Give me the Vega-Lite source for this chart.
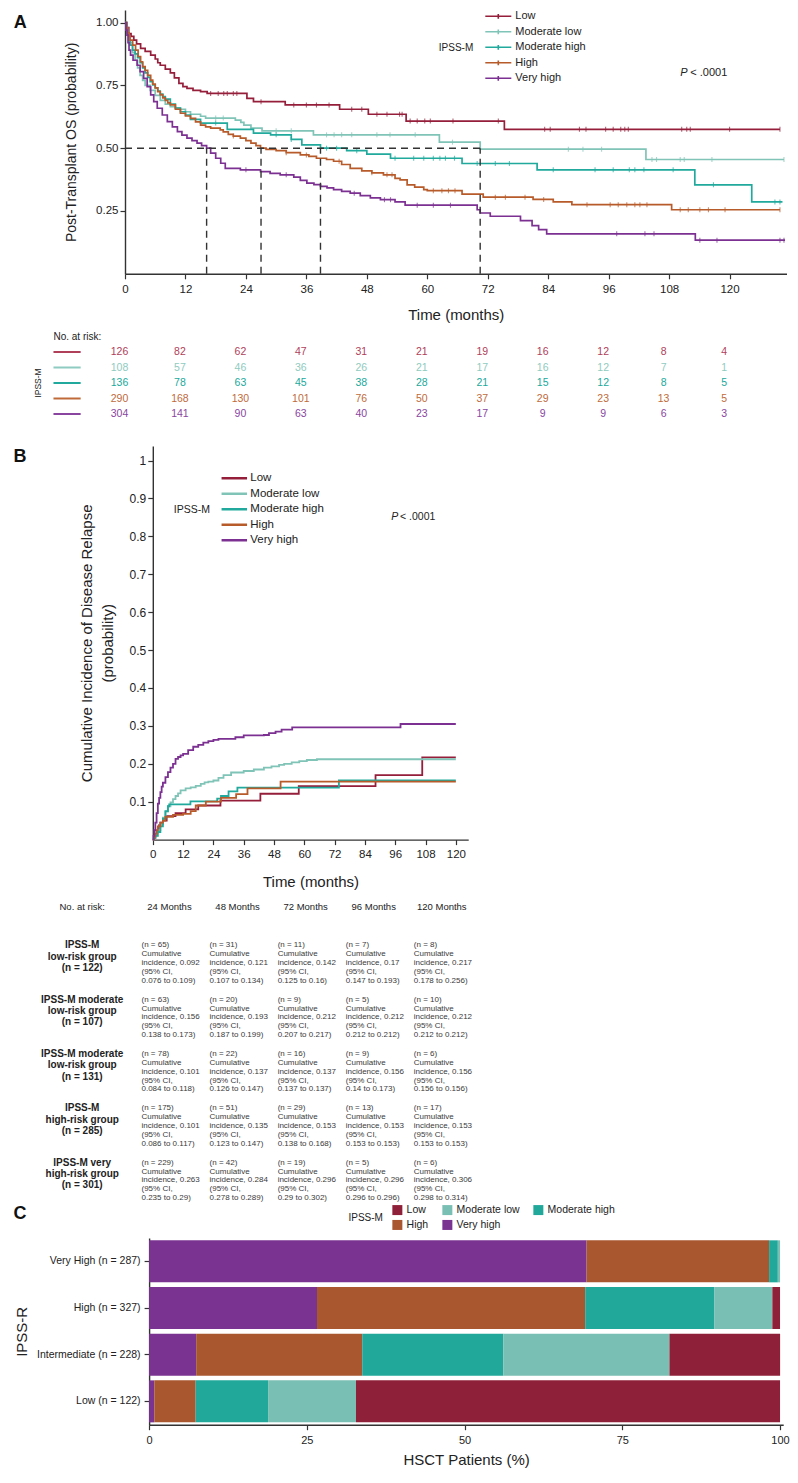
{
"$schema": "https://vega.github.io/schema/vega-lite/v6.json",
"background": "white",
"padding": {"left": 13, "top": 10, "right": 5, "bottom": 5},
"spacing": 20,
"bounds": "flush",
"resolve": {"scale": {"x": "independent", "y": "independent", "color": "independent"}, "legend": {"color": "independent"}},
"config": {
  "view": {"stroke": null},
  "axis": {"grid": false, "labelFont": "Liberation Sans", "titleFont": "Liberation Sans", "titleFontWeight": "normal", "domainColor": "#333", "tickColor": "#333", "labelColor": "#222", "titleColor": "#222", "domainWidth": 1.4, "tickWidth": 1.2, "labelFlush": false, "labelOverlap": false},
  "legend": {"labelFont": "Liberation Sans", "titleFont": "Liberation Sans", "titleFontWeight": "normal", "padding": 0, "labelColor": "#222", "titleColor": "#222"},
  "text": {"font": "Liberation Sans", "color": "#222"}
},
"datasets": {
  "os": [
    {"g":"Low","t":0,"s":1},{"g":"Low","t":0.4,"s":0.98},{"g":"Low","t":0.75,"s":0.956},{"g":"Low","t":1.2,"s":0.945},{"g":"Low","t":1.75,"s":0.93},{"g":"Low","t":2.3,"s":0.915},{"g":"Low","t":3.1,"s":0.897},{"g":"Low","t":4,"s":0.885},{"g":"Low","t":5.1,"s":0.87},{"g":"Low","t":6,"s":0.855},{"g":"Low","t":6.5,"s":0.84},{"g":"Low","t":7,"s":0.83},{"g":"Low","t":8,"s":0.815},{"g":"Low","t":9,"s":0.8},{"g":"Low","t":9.8,"s":0.78},{"g":"Low","t":10.7,"s":0.758},{"g":"Low","t":11.5,"s":0.745},{"g":"Low","t":12.3,"s":0.738},{"g":"Low","t":13.5,"s":0.73},{"g":"Low","t":15,"s":0.725},{"g":"Low","t":16.3,"s":0.718},{"g":"Low","t":24.2,"s":0.698},{"g":"Low","t":25.5,"s":0.685},{"g":"Low","t":31.8,"s":0.672},{"g":"Low","t":42.6,"s":0.655},{"g":"Low","t":48.3,"s":0.635},{"g":"Low","t":55.8,"s":0.608},{"g":"Low","t":75.3,"s":0.575},{"g":"Low","t":130,"s":0.575},
    {"g":"Moderate low","t":0,"s":1},{"g":"Moderate low","t":0.3,"s":0.98},{"g":"Moderate low","t":0.5,"s":0.96},{"g":"Moderate low","t":0.8,"s":0.94},{"g":"Moderate low","t":1,"s":0.92},{"g":"Moderate low","t":1.5,"s":0.88},{"g":"Moderate low","t":2,"s":0.85},{"g":"Moderate low","t":2.5,"s":0.82},{"g":"Moderate low","t":3,"s":0.79},{"g":"Moderate low","t":3.5,"s":0.77},{"g":"Moderate low","t":4,"s":0.75},{"g":"Moderate low","t":5,"s":0.73},{"g":"Moderate low","t":6,"s":0.71},{"g":"Moderate low","t":7,"s":0.69},{"g":"Moderate low","t":8,"s":0.675},{"g":"Moderate low","t":9,"s":0.665},{"g":"Moderate low","t":10,"s":0.66},{"g":"Moderate low","t":11,"s":0.655},{"g":"Moderate low","t":12,"s":0.645},{"g":"Moderate low","t":13,"s":0.635},{"g":"Moderate low","t":15,"s":0.627},{"g":"Moderate low","t":16,"s":0.62},{"g":"Moderate low","t":21.9,"s":0.612},{"g":"Moderate low","t":23,"s":0.603},{"g":"Moderate low","t":23.6,"s":0.592},{"g":"Moderate low","t":25,"s":0.58},{"g":"Moderate low","t":27.2,"s":0.569},{"g":"Moderate low","t":37.4,"s":0.553},{"g":"Moderate low","t":62.4,"s":0.524},{"g":"Moderate low","t":70.5,"s":0.496},{"g":"Moderate low","t":103.4,"s":0.455},{"g":"Moderate low","t":130.8,"s":0.455},
    {"g":"Moderate high","t":0,"s":1},{"g":"Moderate high","t":0.3,"s":0.97},{"g":"Moderate high","t":0.5,"s":0.95},{"g":"Moderate high","t":0.8,"s":0.93},{"g":"Moderate high","t":1,"s":0.91},{"g":"Moderate high","t":1.5,"s":0.89},{"g":"Moderate high","t":2,"s":0.875},{"g":"Moderate high","t":2.5,"s":0.86},{"g":"Moderate high","t":3,"s":0.84},{"g":"Moderate high","t":3.5,"s":0.82},{"g":"Moderate high","t":4,"s":0.8},{"g":"Moderate high","t":4.5,"s":0.782},{"g":"Moderate high","t":5,"s":0.765},{"g":"Moderate high","t":5.5,"s":0.752},{"g":"Moderate high","t":6,"s":0.74},{"g":"Moderate high","t":6.5,"s":0.727},{"g":"Moderate high","t":7,"s":0.715},{"g":"Moderate high","t":7.5,"s":0.705},{"g":"Moderate high","t":8,"s":0.695},{"g":"Moderate high","t":9,"s":0.675},{"g":"Moderate high","t":10,"s":0.66},{"g":"Moderate high","t":11,"s":0.645},{"g":"Moderate high","t":12,"s":0.632},{"g":"Moderate high","t":13,"s":0.615},{"g":"Moderate high","t":15,"s":0.6},{"g":"Moderate high","t":20.3,"s":0.575},{"g":"Moderate high","t":25.5,"s":0.56},{"g":"Moderate high","t":28.9,"s":0.553},{"g":"Moderate high","t":33,"s":0.535},{"g":"Moderate high","t":35.1,"s":0.513},{"g":"Moderate high","t":38.8,"s":0.5},{"g":"Moderate high","t":44,"s":0.49},{"g":"Moderate high","t":48,"s":0.476},{"g":"Moderate high","t":52.7,"s":0.46},{"g":"Moderate high","t":66.9,"s":0.439},{"g":"Moderate high","t":81.8,"s":0.414},{"g":"Moderate high","t":113.1,"s":0.354},{"g":"Moderate high","t":124.4,"s":0.286},{"g":"Moderate high","t":130.5,"s":0.286},
    {"g":"High","t":0,"s":1},{"g":"High","t":0.3,"s":0.98},{"g":"High","t":0.5,"s":0.96},{"g":"High","t":0.8,"s":0.945},{"g":"High","t":1,"s":0.93},{"g":"High","t":1.5,"s":0.91},{"g":"High","t":2.1,"s":0.89},{"g":"High","t":2.6,"s":0.865},{"g":"High","t":3.1,"s":0.844},{"g":"High","t":3.5,"s":0.825},{"g":"High","t":4,"s":0.81},{"g":"High","t":4.5,"s":0.79},{"g":"High","t":5.1,"s":0.771},{"g":"High","t":5.5,"s":0.755},{"g":"High","t":6,"s":0.74},{"g":"High","t":6.5,"s":0.725},{"g":"High","t":7,"s":0.712},{"g":"High","t":7.5,"s":0.7},{"g":"High","t":8,"s":0.69},{"g":"High","t":8.5,"s":0.68},{"g":"High","t":9,"s":0.672},{"g":"High","t":10,"s":0.655},{"g":"High","t":11,"s":0.639},{"g":"High","t":12,"s":0.628},{"g":"High","t":13,"s":0.619},{"g":"High","t":14,"s":0.605},{"g":"High","t":15,"s":0.592},{"g":"High","t":16,"s":0.585},{"g":"High","t":17,"s":0.58},{"g":"High","t":18.9,"s":0.573},{"g":"High","t":19.5,"s":0.565},{"g":"High","t":20.5,"s":0.555},{"g":"High","t":21.5,"s":0.548},{"g":"High","t":22.9,"s":0.54},{"g":"High","t":24,"s":0.53},{"g":"High","t":25,"s":0.52},{"g":"High","t":26,"s":0.51},{"g":"High","t":26.9,"s":0.5},{"g":"High","t":28,"s":0.495},{"g":"High","t":30,"s":0.49},{"g":"High","t":32,"s":0.482},{"g":"High","t":34.8,"s":0.473},{"g":"High","t":36.5,"s":0.467},{"g":"High","t":38,"s":0.46},{"g":"High","t":40,"s":0.455},{"g":"High","t":41.4,"s":0.448},{"g":"High","t":43,"s":0.435},{"g":"High","t":44.7,"s":0.42},{"g":"High","t":47,"s":0.41},{"g":"High","t":49,"s":0.402},{"g":"High","t":51.3,"s":0.394},{"g":"High","t":53.6,"s":0.38},{"g":"High","t":54.6,"s":0.374},{"g":"High","t":56,"s":0.354},{"g":"High","t":57.5,"s":0.345},{"g":"High","t":59.3,"s":0.335},{"g":"High","t":60,"s":0.331},{"g":"High","t":66.9,"s":0.317},{"g":"High","t":71.1,"s":0.305},{"g":"High","t":81,"s":0.296},{"g":"High","t":85,"s":0.286},{"g":"High","t":88.7,"s":0.275},{"g":"High","t":108.5,"s":0.255},{"g":"High","t":130,"s":0.255},
    {"g":"Very high","t":0,"s":1},{"g":"Very high","t":0.2,"s":0.97},{"g":"Very high","t":0.4,"s":0.95},{"g":"Very high","t":0.6,"s":0.92},{"g":"Very high","t":0.8,"s":0.89},{"g":"Very high","t":1.1,"s":0.87},{"g":"Very high","t":1.6,"s":0.85},{"g":"Very high","t":2.4,"s":0.83},{"g":"Very high","t":3,"s":0.805},{"g":"Very high","t":3.7,"s":0.778},{"g":"Very high","t":4.4,"s":0.745},{"g":"Very high","t":5.1,"s":0.712},{"g":"Very high","t":5.7,"s":0.685},{"g":"Very high","t":6.4,"s":0.659},{"g":"Very high","t":7.4,"s":0.632},{"g":"Very high","t":8.4,"s":0.606},{"g":"Very high","t":9.4,"s":0.585},{"g":"Very high","t":10.4,"s":0.566},{"g":"Very high","t":11.3,"s":0.552},{"g":"Very high","t":12.3,"s":0.54},{"g":"Very high","t":13.3,"s":0.53},{"g":"Very high","t":14.3,"s":0.52},{"g":"Very high","t":15.2,"s":0.51},{"g":"Very high","t":16.2,"s":0.5},{"g":"Very high","t":17,"s":0.48},{"g":"Very high","t":18,"s":0.46},{"g":"Very high","t":19,"s":0.44},{"g":"Very high","t":19.9,"s":0.42},{"g":"Very high","t":22.9,"s":0.414},{"g":"Very high","t":26.9,"s":0.407},{"g":"Very high","t":28.8,"s":0.4},{"g":"Very high","t":30.8,"s":0.394},{"g":"Very high","t":33.5,"s":0.385},{"g":"Very high","t":34.8,"s":0.372},{"g":"Very high","t":36.1,"s":0.361},{"g":"Very high","t":37.5,"s":0.355},{"g":"Very high","t":38.8,"s":0.348},{"g":"Very high","t":40.1,"s":0.342},{"g":"Very high","t":41.4,"s":0.335},{"g":"Very high","t":43,"s":0.328},{"g":"Very high","t":44.7,"s":0.321},{"g":"Very high","t":46.7,"s":0.311},{"g":"Very high","t":48.7,"s":0.302},{"g":"Very high","t":50.7,"s":0.295},{"g":"Very high","t":53.6,"s":0.286},{"g":"Very high","t":55.6,"s":0.273},{"g":"Very high","t":69.9,"s":0.255},{"g":"Very high","t":70.5,"s":0.242},{"g":"Very high","t":72.5,"s":0.229},{"g":"Very high","t":78.5,"s":0.212},{"g":"Very high","t":80.8,"s":0.192},{"g":"Very high","t":82.1,"s":0.176},{"g":"Very high","t":83.7,"s":0.159},{"g":"Very high","t":113.2,"s":0.134},{"g":"Very high","t":131,"s":0.134}
  ],
  "cens": [
    {"g":"Low","t":17,"s":0.718},{"g":"Low","t":18.5,"s":0.718},{"g":"Low","t":19.6,"s":0.718},{"g":"Low","t":20.3,"s":0.718},{"g":"Low","t":21.5,"s":0.718},{"g":"Low","t":22.2,"s":0.718},{"g":"Low","t":27,"s":0.685},{"g":"Low","t":33.5,"s":0.672},{"g":"Low","t":36,"s":0.672},{"g":"Low","t":38,"s":0.672},{"g":"Low","t":40.5,"s":0.672},{"g":"Low","t":45,"s":0.655},{"g":"Low","t":47,"s":0.655},{"g":"Low","t":50,"s":0.635},{"g":"Low","t":52,"s":0.635},{"g":"Low","t":54.5,"s":0.635},{"g":"Low","t":55,"s":0.635},{"g":"Low","t":56.6,"s":0.608},{"g":"Low","t":58,"s":0.608},{"g":"Low","t":59.5,"s":0.608},{"g":"Low","t":60.6,"s":0.608},{"g":"Low","t":65.1,"s":0.608},{"g":"Low","t":74.1,"s":0.608},{"g":"Low","t":83.3,"s":0.575},{"g":"Low","t":84.4,"s":0.575},{"g":"Low","t":90.2,"s":0.575},{"g":"Low","t":91.5,"s":0.575},{"g":"Low","t":95.4,"s":0.575},{"g":"Low","t":96.9,"s":0.575},{"g":"Low","t":98.4,"s":0.575},{"g":"Low","t":99.2,"s":0.575},{"g":"Low","t":99.9,"s":0.575},{"g":"Low","t":110.5,"s":0.575},{"g":"Low","t":111.5,"s":0.575},{"g":"Low","t":112.2,"s":0.575},{"g":"Low","t":120,"s":0.575},{"g":"Low","t":130,"s":0.575},
    {"g":"Moderate low","t":18,"s":0.62},{"g":"Moderate low","t":19.5,"s":0.62},{"g":"Moderate low","t":30,"s":0.569},{"g":"Moderate low","t":33,"s":0.569},{"g":"Moderate low","t":40,"s":0.553},{"g":"Moderate low","t":41.5,"s":0.553},{"g":"Moderate low","t":43,"s":0.553},{"g":"Moderate low","t":45,"s":0.553},{"g":"Moderate low","t":50,"s":0.553},{"g":"Moderate low","t":52.6,"s":0.553},{"g":"Moderate low","t":57.6,"s":0.553},{"g":"Moderate low","t":65,"s":0.524},{"g":"Moderate low","t":88,"s":0.496},{"g":"Moderate low","t":90.9,"s":0.496},{"g":"Moderate low","t":94.6,"s":0.496},{"g":"Moderate low","t":104.6,"s":0.455},{"g":"Moderate low","t":105.5,"s":0.455},{"g":"Moderate low","t":110.2,"s":0.455},{"g":"Moderate low","t":111,"s":0.455},{"g":"Moderate low","t":116.5,"s":0.455},{"g":"Moderate low","t":130.8,"s":0.455},
    {"g":"Moderate high","t":18,"s":0.6},{"g":"Moderate high","t":30,"s":0.553},{"g":"Moderate high","t":33,"s":0.535},{"g":"Moderate high","t":40,"s":0.5},{"g":"Moderate high","t":42,"s":0.5},{"g":"Moderate high","t":46,"s":0.49},{"g":"Moderate high","t":53.6,"s":0.46},{"g":"Moderate high","t":57.3,"s":0.46},{"g":"Moderate high","t":59.3,"s":0.46},{"g":"Moderate high","t":61.2,"s":0.46},{"g":"Moderate high","t":62.5,"s":0.46},{"g":"Moderate high","t":63.6,"s":0.46},{"g":"Moderate high","t":65.4,"s":0.46},{"g":"Moderate high","t":69.9,"s":0.439},{"g":"Moderate high","t":73.5,"s":0.439},{"g":"Moderate high","t":76.3,"s":0.439},{"g":"Moderate high","t":85,"s":0.414},{"g":"Moderate high","t":93.3,"s":0.414},{"g":"Moderate high","t":96.9,"s":0.414},{"g":"Moderate high","t":100.1,"s":0.414},{"g":"Moderate high","t":101.2,"s":0.414},{"g":"Moderate high","t":103,"s":0.414},{"g":"Moderate high","t":108.8,"s":0.414},{"g":"Moderate high","t":116.8,"s":0.354},{"g":"Moderate high","t":129,"s":0.286},{"g":"Moderate high","t":130,"s":0.286},
    {"g":"High","t":21.5,"s":0.548},{"g":"High","t":32,"s":0.482},{"g":"High","t":36,"s":0.473},{"g":"High","t":42.5,"s":0.448},{"g":"High","t":49,"s":0.402},{"g":"High","t":52,"s":0.394},{"g":"High","t":53,"s":0.394},{"g":"High","t":61.2,"s":0.331},{"g":"High","t":62.9,"s":0.331},{"g":"High","t":64.2,"s":0.331},{"g":"High","t":65.5,"s":0.331},{"g":"High","t":73.5,"s":0.305},{"g":"High","t":75.5,"s":0.305},{"g":"High","t":79.4,"s":0.305},{"g":"High","t":83.1,"s":0.296},{"g":"High","t":91.7,"s":0.275},{"g":"High","t":96.3,"s":0.275},{"g":"High","t":97.9,"s":0.275},{"g":"High","t":99.6,"s":0.275},{"g":"High","t":101.2,"s":0.275},{"g":"High","t":102.2,"s":0.275},{"g":"High","t":103.6,"s":0.275},{"g":"High","t":110.2,"s":0.255},{"g":"High","t":111.8,"s":0.255},{"g":"High","t":114.1,"s":0.255},{"g":"High","t":115.8,"s":0.255},{"g":"High","t":119.1,"s":0.255},{"g":"High","t":130,"s":0.255},
    {"g":"Very high","t":24,"s":0.414},{"g":"Very high","t":32,"s":0.394},{"g":"Very high","t":45.5,"s":0.321},{"g":"Very high","t":51.5,"s":0.295},{"g":"Very high","t":52.7,"s":0.295},{"g":"Very high","t":58,"s":0.273},{"g":"Very high","t":61.2,"s":0.273},{"g":"Very high","t":64.6,"s":0.273},{"g":"Very high","t":97.6,"s":0.159},{"g":"Very high","t":103.2,"s":0.159},{"g":"Very high","t":105,"s":0.159},{"g":"Very high","t":114.1,"s":0.134},{"g":"Very high","t":117.5,"s":0.134},{"g":"Very high","t":130,"s":0.134},{"g":"Very high","t":130.8,"s":0.134}
  ],
  "med": [
    {"x1":0,"x2":70.5,"y1":0.5,"y2":0.5},
    {"x1":16.2,"x2":16.2,"y1":0,"y2":0.5},
    {"x1":27,"x2":27,"y1":0,"y2":0.5},
    {"x1":38.8,"x2":38.8,"y1":0,"y2":0.5},
    {"x1":70.5,"x2":70.5,"y1":0,"y2":0.5}
  ],
  "risk": [
    {"g":"Low","t":0,"n":126},{"g":"Low","t":12,"n":82},{"g":"Low","t":24,"n":62},{"g":"Low","t":36,"n":47},{"g":"Low","t":48,"n":31},{"g":"Low","t":60,"n":21},{"g":"Low","t":72,"n":19},{"g":"Low","t":84,"n":16},{"g":"Low","t":96,"n":12},{"g":"Low","t":108,"n":8},{"g":"Low","t":120,"n":4},
    {"g":"Moderate low","t":0,"n":108},{"g":"Moderate low","t":12,"n":57},{"g":"Moderate low","t":24,"n":46},{"g":"Moderate low","t":36,"n":36},{"g":"Moderate low","t":48,"n":26},{"g":"Moderate low","t":60,"n":21},{"g":"Moderate low","t":72,"n":17},{"g":"Moderate low","t":84,"n":16},{"g":"Moderate low","t":96,"n":12},{"g":"Moderate low","t":108,"n":7},{"g":"Moderate low","t":120,"n":1},
    {"g":"Moderate high","t":0,"n":136},{"g":"Moderate high","t":12,"n":78},{"g":"Moderate high","t":24,"n":63},{"g":"Moderate high","t":36,"n":45},{"g":"Moderate high","t":48,"n":38},{"g":"Moderate high","t":60,"n":28},{"g":"Moderate high","t":72,"n":21},{"g":"Moderate high","t":84,"n":15},{"g":"Moderate high","t":96,"n":12},{"g":"Moderate high","t":108,"n":8},{"g":"Moderate high","t":120,"n":5},
    {"g":"High","t":0,"n":290},{"g":"High","t":12,"n":168},{"g":"High","t":24,"n":130},{"g":"High","t":36,"n":101},{"g":"High","t":48,"n":76},{"g":"High","t":60,"n":50},{"g":"High","t":72,"n":37},{"g":"High","t":84,"n":29},{"g":"High","t":96,"n":23},{"g":"High","t":108,"n":13},{"g":"High","t":120,"n":5},
    {"g":"Very high","t":0,"n":304},{"g":"Very high","t":12,"n":141},{"g":"Very high","t":24,"n":90},{"g":"Very high","t":36,"n":63},{"g":"Very high","t":48,"n":40},{"g":"Very high","t":60,"n":23},{"g":"Very high","t":72,"n":17},{"g":"Very high","t":84,"n":9},{"g":"Very high","t":96,"n":9},{"g":"Very high","t":108,"n":6},{"g":"Very high","t":120,"n":3}
  ],
  "grp": [{"g":"Low"},{"g":"Moderate low"},{"g":"Moderate high"},{"g":"High"},{"g":"Very high"}],
  "ci": [
    {"g":"Low","t":0,"v":0},{"g":"Low","t":0.5,"v":0.005},{"g":"Low","t":1,"v":0.012},{"g":"Low","t":1.5,"v":0.02},{"g":"Low","t":2,"v":0.03},{"g":"Low","t":2.5,"v":0.038},{"g":"Low","t":3,"v":0.045},{"g":"Low","t":4,"v":0.05},{"g":"Low","t":5.5,"v":0.062},{"g":"Low","t":9,"v":0.07},{"g":"Low","t":13,"v":0.08},{"g":"Low","t":18,"v":0.09},{"g":"Low","t":26.8,"v":0.103},{"g":"Low","t":42.6,"v":0.121},{"g":"Low","t":57.8,"v":0.141},{"g":"Low","t":88.2,"v":0.17},{"g":"Low","t":106.7,"v":0.217},{"g":"Low","t":120,"v":0.217},
    {"g":"Moderate low","t":0,"v":0},{"g":"Moderate low","t":0.5,"v":0.005},{"g":"Moderate low","t":1,"v":0.01},{"g":"Moderate low","t":1.5,"v":0.018},{"g":"Moderate low","t":2,"v":0.025},{"g":"Moderate low","t":3,"v":0.04},{"g":"Moderate low","t":4,"v":0.058},{"g":"Moderate low","t":5,"v":0.074},{"g":"Moderate low","t":6,"v":0.088},{"g":"Moderate low","t":7,"v":0.098},{"g":"Moderate low","t":8,"v":0.107},{"g":"Moderate low","t":9,"v":0.115},{"g":"Moderate low","t":10,"v":0.122},{"g":"Moderate low","t":11,"v":0.13},{"g":"Moderate low","t":13,"v":0.135},{"g":"Moderate low","t":15,"v":0.138},{"g":"Moderate low","t":17,"v":0.142},{"g":"Moderate low","t":19,"v":0.147},{"g":"Moderate low","t":20.5,"v":0.151},{"g":"Moderate low","t":22,"v":0.153},{"g":"Moderate low","t":24,"v":0.156},{"g":"Moderate low","t":26,"v":0.163},{"g":"Moderate low","t":28,"v":0.17},{"g":"Moderate low","t":31,"v":0.177},{"g":"Moderate low","t":36,"v":0.181},{"g":"Moderate low","t":40,"v":0.185},{"g":"Moderate low","t":44,"v":0.19},{"g":"Moderate low","t":47,"v":0.193},{"g":"Moderate low","t":50,"v":0.197},{"g":"Moderate low","t":52,"v":0.2},{"g":"Moderate low","t":55,"v":0.204},{"g":"Moderate low","t":58,"v":0.207},{"g":"Moderate low","t":61,"v":0.21},{"g":"Moderate low","t":65,"v":0.212},{"g":"Moderate low","t":120,"v":0.212},
    {"g":"Moderate high","t":0,"v":0},{"g":"Moderate high","t":0.5,"v":0.004},{"g":"Moderate high","t":1,"v":0.01},{"g":"Moderate high","t":2,"v":0.02},{"g":"Moderate high","t":3,"v":0.035},{"g":"Moderate high","t":4,"v":0.055},{"g":"Moderate high","t":5,"v":0.075},{"g":"Moderate high","t":6,"v":0.088},{"g":"Moderate high","t":6.5,"v":0.093},{"g":"Moderate high","t":14.9,"v":0.101},{"g":"Moderate high","t":25.5,"v":0.108},{"g":"Moderate high","t":27,"v":0.115},{"g":"Moderate high","t":30,"v":0.127},{"g":"Moderate high","t":33.5,"v":0.137},{"g":"Moderate high","t":73.7,"v":0.156},{"g":"Moderate high","t":120,"v":0.156},
    {"g":"High","t":0,"v":0},{"g":"High","t":0.5,"v":0.008},{"g":"High","t":1,"v":0.015},{"g":"High","t":1.5,"v":0.025},{"g":"High","t":2,"v":0.035},{"g":"High","t":3,"v":0.045},{"g":"High","t":4,"v":0.05},{"g":"High","t":5,"v":0.06},{"g":"High","t":8,"v":0.065},{"g":"High","t":12,"v":0.068},{"g":"High","t":15,"v":0.075},{"g":"High","t":17,"v":0.09},{"g":"High","t":21,"v":0.1},{"g":"High","t":27,"v":0.11},{"g":"High","t":33,"v":0.12},{"g":"High","t":37.5,"v":0.135},{"g":"High","t":50.6,"v":0.153},{"g":"High","t":120,"v":0.153},
    {"g":"Very high","t":0,"v":0},{"g":"Very high","t":0.3,"v":0.01},{"g":"Very high","t":0.6,"v":0.025},{"g":"Very high","t":1,"v":0.045},{"g":"Very high","t":1.5,"v":0.07},{"g":"Very high","t":2,"v":0.095},{"g":"Very high","t":2.5,"v":0.11},{"g":"Very high","t":3,"v":0.125},{"g":"Very high","t":3.5,"v":0.14},{"g":"Very high","t":4,"v":0.15},{"g":"Very high","t":5,"v":0.165},{"g":"Very high","t":6,"v":0.178},{"g":"Very high","t":7,"v":0.19},{"g":"Very high","t":8,"v":0.2},{"g":"Very high","t":9,"v":0.213},{"g":"Very high","t":10,"v":0.218},{"g":"Very high","t":11,"v":0.222},{"g":"Very high","t":12,"v":0.226},{"g":"Very high","t":14,"v":0.236},{"g":"Very high","t":16,"v":0.245},{"g":"Very high","t":18,"v":0.25},{"g":"Very high","t":20,"v":0.256},{"g":"Very high","t":22,"v":0.26},{"g":"Very high","t":24,"v":0.263},{"g":"Very high","t":26,"v":0.266},{"g":"Very high","t":32.7,"v":0.27},{"g":"Very high","t":36,"v":0.275},{"g":"Very high","t":44,"v":0.276},{"g":"Very high","t":46,"v":0.281},{"g":"Very high","t":48.6,"v":0.285},{"g":"Very high","t":51,"v":0.29},{"g":"Very high","t":55.2,"v":0.296},{"g":"Very high","t":98.1,"v":0.305},{"g":"Very high","t":120,"v":0.305}
  ],
  "hdr": [{"c":"24 Months"},{"c":"48 Months"},{"c":"72 Months"},{"c":"96 Months"},{"c":"120 Months"}],
  "rowlab": [
    {"row":"r1","lab":"IPSS-M\nlow-risk group\n(n = 122)"},
    {"row":"r2","lab":"IPSS-M moderate\nlow-risk group\n(n = 107)"},
    {"row":"r3","lab":"IPSS-M moderate\nlow-risk group\n(n = 131)"},
    {"row":"r4","lab":"IPSS-M\nhigh-risk group\n(n = 285)"},
    {"row":"r5","lab":"IPSS-M very\nhigh-risk group\n(n = 301)"}
  ],
  "cells": [
    {"row":"r1","c":"24 Months","txt":"(n = 65)\nCumulative\nincidence, 0.092\n(95% CI,\n0.076 to 0.109)"},
    {"row":"r1","c":"48 Months","txt":"(n = 31)\nCumulative\nincidence, 0.121\n(95% CI,\n0.107 to 0.134)"},
    {"row":"r1","c":"72 Months","txt":"(n = 11)\nCumulative\nincidence, 0.142\n(95% CI,\n0.125 to 0.16)"},
    {"row":"r1","c":"96 Months","txt":"(n = 7)\nCumulative\nincidence, 0.17\n(95% CI,\n0.147 to 0.193)"},
    {"row":"r1","c":"120 Months","txt":"(n = 8)\nCumulative\nincidence, 0.217\n(95% CI,\n0.178 to 0.256)"},
    {"row":"r2","c":"24 Months","txt":"(n = 63)\nCumulative\nincidence, 0.156\n(95% CI,\n0.138 to 0.173)"},
    {"row":"r2","c":"48 Months","txt":"(n = 20)\nCumulative\nincidence, 0.193\n(95% CI,\n0.187 to 0.199)"},
    {"row":"r2","c":"72 Months","txt":"(n = 9)\nCumulative\nincidence, 0.212\n(95% CI,\n0.207 to 0.217)"},
    {"row":"r2","c":"96 Months","txt":"(n = 5)\nCumulative\nincidence, 0.212\n(95% CI,\n0.212 to 0.212)"},
    {"row":"r2","c":"120 Months","txt":"(n = 10)\nCumulative\nincidence, 0.212\n(95% CI,\n0.212 to 0.212)"},
    {"row":"r3","c":"24 Months","txt":"(n = 78)\nCumulative\nincidence, 0.101\n(95% CI,\n0.084 to 0.118)"},
    {"row":"r3","c":"48 Months","txt":"(n = 22)\nCumulative\nincidence, 0.137\n(95% CI,\n0.126 to 0.147)"},
    {"row":"r3","c":"72 Months","txt":"(n = 16)\nCumulative\nincidence, 0.137\n(95% CI,\n0.137 to 0.137)"},
    {"row":"r3","c":"96 Months","txt":"(n = 9)\nCumulative\nincidence, 0.156\n(95% CI,\n0.14 to 0.173)"},
    {"row":"r3","c":"120 Months","txt":"(n = 6)\nCumulative\nincidence, 0.156\n(95% CI,\n0.156 to 0.156)"},
    {"row":"r4","c":"24 Months","txt":"(n = 175)\nCumulative\nincidence, 0.101\n(95% CI,\n0.086 to 0.117)"},
    {"row":"r4","c":"48 Months","txt":"(n = 51)\nCumulative\nincidence, 0.135\n(95% CI,\n0.123 to 0.147)"},
    {"row":"r4","c":"72 Months","txt":"(n = 29)\nCumulative\nincidence, 0.153\n(95% CI,\n0.138 to 0.168)"},
    {"row":"r4","c":"96 Months","txt":"(n = 13)\nCumulative\nincidence, 0.153\n(95% CI,\n0.153 to 0.153)"},
    {"row":"r4","c":"120 Months","txt":"(n = 17)\nCumulative\nincidence, 0.153\n(95% CI,\n0.153 to 0.153)"},
    {"row":"r5","c":"24 Months","txt":"(n = 229)\nCumulative\nincidence, 0.263\n(95% CI,\n0.235 to 0.29)"},
    {"row":"r5","c":"48 Months","txt":"(n = 42)\nCumulative\nincidence, 0.284\n(95% CI,\n0.278 to 0.289)"},
    {"row":"r5","c":"72 Months","txt":"(n = 19)\nCumulative\nincidence, 0.296\n(95% CI,\n0.29 to 0.302)"},
    {"row":"r5","c":"96 Months","txt":"(n = 5)\nCumulative\nincidence, 0.296\n(95% CI,\n0.296 to 0.296)"},
    {"row":"r5","c":"120 Months","txt":"(n = 6)\nCumulative\nincidence, 0.306\n(95% CI,\n0.298 to 0.314)"}
  ],
  "bars": [
    {"r":"Very High (n = 287)","g":"Very high","lvl":5,"pct":69.34},
    {"r":"Very High (n = 287)","g":"High","lvl":4,"pct":28.92},
    {"r":"Very High (n = 287)","g":"Moderate high","lvl":3,"pct":1.39},
    {"r":"Very High (n = 287)","g":"Moderate low","lvl":2,"pct":0.35},
    {"r":"High (n =  327)","g":"Very high","lvl":5,"pct":26.61},
    {"r":"High (n =  327)","g":"High","lvl":4,"pct":42.51},
    {"r":"High (n =  327)","g":"Moderate high","lvl":3,"pct":20.49},
    {"r":"High (n =  327)","g":"Moderate low","lvl":2,"pct":9.17},
    {"r":"High (n =  327)","g":"Low","lvl":1,"pct":1.22},
    {"r":"Intermediate (n = 228)","g":"Very high","lvl":5,"pct":7.46},
    {"r":"Intermediate (n = 228)","g":"High","lvl":4,"pct":26.32},
    {"r":"Intermediate (n = 228)","g":"Moderate high","lvl":3,"pct":22.37},
    {"r":"Intermediate (n = 228)","g":"Moderate low","lvl":2,"pct":26.32},
    {"r":"Intermediate (n = 228)","g":"Low","lvl":1,"pct":17.54},
    {"r":"Low (n = 122)","g":"Very high","lvl":5,"pct":0.82},
    {"r":"Low (n = 122)","g":"High","lvl":4,"pct":6.56},
    {"r":"Low (n = 122)","g":"Moderate high","lvl":3,"pct":11.48},
    {"r":"Low (n = 122)","g":"Moderate low","lvl":2,"pct":13.93},
    {"r":"Low (n = 122)","g":"Low","lvl":1,"pct":67.21}
  ]
},
"vconcat": [
  {
    "width": 661.5, "height": 263.8,
    "layer": [
      {"data": {"name": "os"}, "mark": {"type": "line", "interpolate": "step-after", "strokeWidth": 1.7},
       "encoding": {
         "x": {"field": "t", "type": "quantitative", "scale": {"domain": [0, 131.3], "nice": false, "zero": false},
               "axis": {"values": [0,12,24,36,48,60,72,84,96,108,120], "tickCount": 20, "title": "Time (months)", "titleFontSize": 15, "titlePadding": 12, "labelFontSize": 11.5, "tickSize": 5, "labelPadding": 5, "labelOverlap": false}},
         "y": {"field": "s", "type": "quantitative", "scale": {"domain": [0, 1.05], "nice": false},
               "axis": {"values": [0.25,0.5,0.75,1], "tickCount": 20, "format": ".2f", "title": "Post-Transplant OS (probability)", "titleFontSize": 14, "titlePadding": 17, "labelFontSize": 11.5, "tickSize": 5, "labelOverlap": false}},
         "color": {"field": "g", "type": "nominal",
                   "scale": {"domain": ["Low","Moderate low","Moderate high","High","Very high"], "range": ["#951e3b","#80c4b7","#20a99c","#b85b2b","#7c3192"]},
                   "legend": {"orient": "none", "legendX": 313.8, "legendY": 0.8, "title": "IPSS-M", "titleOrient": "left", "titleAnchor": "middle", "titlePadding": 9, "titleFontSize": 10, "symbolType": "M-1,0H7.67M3.33,-0.8V0.8", "symbolSize": 36, "symbolStrokeWidth": 1.6, "labelOffset": 21.5, "labelFontSize": 11, "rowPadding": 2.5}}
       }},
      {"data": {"name": "cens"}, "mark": {"type": "tick", "orient": "vertical", "size": 5, "thickness": 1.1},
       "encoding": {"x": {"field": "t", "type": "quantitative"}, "y": {"field": "s", "type": "quantitative"}, "color": {"field": "g", "type": "nominal", "legend": null}}},
      {"data": {"name": "med"}, "mark": {"type": "rule", "strokeDash": [7, 5], "strokeWidth": 1.4, "color": "#333"},
       "encoding": {"x": {"field": "x1", "type": "quantitative"}, "x2": {"field": "x2"}, "y": {"field": "y1", "type": "quantitative"}, "y2": {"field": "y2"}}},
      {"data": {"values": [{"lab": "A"}]}, "mark": {"type": "text", "fontSize": 18, "fontWeight": "bold", "align": "left", "baseline": "middle", "color": "#111"},
       "encoding": {"x": {"datum": -22.1, "type": "quantitative"}, "y": {"datum": 1.0, "type": "quantitative"}, "text": {"field": "lab"}}},
      {"data": {"values": [{"lab": "P"}]}, "mark": {"type": "text", "fontSize": 11, "fontStyle": "italic", "align": "left", "baseline": "middle"},
       "encoding": {"x": {"datum": 110.2, "type": "quantitative"}, "y": {"datum": 0.8, "type": "quantitative"}, "text": {"field": "lab"}}},
      {"data": {"values": [{"lab": "< .0001"}]}, "mark": {"type": "text", "fontSize": 11, "align": "left", "baseline": "middle"},
       "encoding": {"x": {"datum": 112.2, "type": "quantitative"}, "y": {"datum": 0.8, "type": "quantitative"}, "text": {"field": "lab"}}}
    ]
  },
  {
    "width": 661.5, "height": 131.5,
    "layer": [
      {"data": {"name": "risk"}, "mark": {"type": "text", "fontSize": 10.5, "dx": -5.5, "baseline": "middle"},
       "encoding": {
         "x": {"field": "t", "type": "quantitative", "scale": {"domain": [0, 131.3], "nice": false, "zero": false}, "axis": null},
         "y": {"field": "g", "type": "nominal", "scale": {"type": "point", "domain": ["hdr","Low","Moderate low","Moderate high","High","Very high"], "range": [42.5, 120], "padding": 0}, "axis": null},
         "text": {"field": "n"},
         "color": {"field": "g", "type": "nominal", "scale": {"domain": ["Low","Moderate low","Moderate high","High","Very high"], "range": ["#b0405a","#8fcbc0","#20a99c","#c06a3a","#8a45a0"]}, "legend": null}
       }},
      {"data": {"name": "grp"}, "mark": {"type": "rule", "strokeWidth": 2},
       "encoding": {"x": {"datum": -14.2, "type": "quantitative"}, "x2": {"datum": -8.8}, "y": {"field": "g", "type": "nominal"}, "color": {"field": "g", "type": "nominal", "legend": null}}},
      {"data": {"values": [{"lab": "No. at risk:"}]}, "mark": {"type": "text", "align": "left", "baseline": "middle", "fontSize": 10},
       "encoding": {"x": {"datum": -14.2, "type": "quantitative"}, "y": {"datum": "hdr"}, "text": {"field": "lab"}}},
      {"data": {"values": [{"lab": "IPSS-M"}]}, "mark": {"type": "text", "angle": 270, "baseline": "middle", "fontSize": 8.5},
       "encoding": {"x": {"datum": -17.35, "type": "quantitative"}, "y": {"datum": "Moderate high"}, "text": {"field": "lab"}}}
    ]
  },
  {
    "width": 343.2, "height": 393.6,
    "layer": [
      {"data": {"name": "ci"}, "mark": {"type": "line", "interpolate": "step-after", "strokeWidth": 1.8},
       "encoding": {
         "x": {"field": "t", "type": "quantitative", "scale": {"domain": [0, 124.9], "range": [27.8, 343.2], "nice": false, "zero": false},
               "axis": {"values": [0,12,24,36,48,60,72,84,96,108,120], "tickCount": 20, "title": "Time (months)", "titleFontSize": 15, "titlePadding": 14, "labelFontSize": 11.5, "tickSize": 5, "labelPadding": 4, "labelOverlap": false}},
         "y": {"field": "v", "type": "quantitative", "scale": {"domain": [0, 1.0385], "nice": false},
               "axis": {"values": [0.1,0.2,0.3,0.4,0.5,0.6,0.7,0.8,0.9,1], "tickCount": 20, "format": ".1~f", "offset": -27.8, "title": ["Cumulative Incidence of Disease Relapse", "(probability)"], "titleFontSize": 15, "titleLineHeight": 21, "titlePadding": 13.5, "labelFontSize": 12, "tickSize": 5, "labelOverlap": false}},
         "color": {"field": "g", "type": "nominal",
                   "scale": {"domain": ["Low","Moderate low","Moderate high","High","Very high"], "range": ["#951e3b","#80c4b7","#20a99c","#b85b2b","#7c3192"]},
                   "legend": {"orient": "none", "legendX": 48.8, "legendY": 26.5, "title": "IPSS-M", "titleOrient": "left", "titleAnchor": "middle", "titlePadding": 8, "titleFontSize": 10.5, "symbolType": "M-1,0H7.5", "symbolSize": 36, "symbolStrokeWidth": 2.5, "labelOffset": 20, "labelFontSize": 11.5, "rowPadding": 2.5}}
       }},
      {"data": {"values": [{"lab": "B"}]}, "mark": {"type": "text", "fontSize": 18, "fontWeight": "bold", "align": "left", "baseline": "middle", "color": "#111"},
       "encoding": {"x": {"datum": -55.17, "type": "quantitative"}, "y": {"datum": 1.0095, "type": "quantitative"}, "text": {"field": "lab"}}},
      {"data": {"values": [{"lab": "P"}]}, "mark": {"type": "text", "fontSize": 10.5, "fontStyle": "italic", "align": "left", "baseline": "middle"},
       "encoding": {"x": {"datum": 94.4, "type": "quantitative"}, "y": {"datum": 0.851, "type": "quantitative"}, "text": {"field": "lab"}}},
      {"data": {"values": [{"lab": "< .0001"}]}, "mark": {"type": "text", "fontSize": 10.5, "align": "left", "baseline": "middle"},
       "encoding": {"x": {"datum": 97.9, "type": "quantitative"}, "y": {"datum": 0.851, "type": "quantitative"}, "text": {"field": "lab"}}}
    ]
  },
  {
    "width": 343.2, "height": 357.7,
    "layer": [
      {"data": {"name": "cells"}, "mark": {"type": "text", "align": "left", "baseline": "middle", "fontSize": 8, "lineHeight": 8.85, "lineBreak": "\n", "color": "#3a3a3a"},
       "encoding": {
         "x": {"field": "c", "type": "nominal", "scale": {"type": "point", "domain": ["label","24 Months","48 Months","72 Months","96 Months","120 Months"], "range": [-51.6, 288.8], "padding": 0}, "axis": null},
         "y": {"field": "row", "type": "nominal", "scale": {"type": "point", "domain": ["r1","r2","r3","r4","r5"], "range": [85.4, 302.7], "padding": 0}, "axis": null},
         "text": {"field": "txt"}
       }},
      {"data": {"name": "rowlab"}, "mark": {"type": "text", "align": "center", "baseline": "middle", "fontSize": 10, "fontWeight": "bold", "lineHeight": 11.3, "lineBreak": "\n", "dx": 8.8, "color": "#222"},
       "encoding": {"x": {"datum": "label"}, "y": {"field": "row", "type": "nominal"}, "text": {"field": "lab"}}},
      {"data": {"name": "hdr"}, "mark": {"type": "text", "align": "center", "baseline": "middle", "fontSize": 9.5, "dx": 28, "dy": -38, "color": "#222"},
       "encoding": {"x": {"field": "c", "type": "nominal"}, "y": {"datum": "r1"}, "text": {"field": "c"}}},
      {"data": {"values": [{"lab": "No. at risk:"}]}, "mark": {"type": "text", "align": "center", "baseline": "middle", "fontSize": 9.5, "dx": 8.8, "dy": -38, "color": "#222"},
       "encoding": {"x": {"datum": "label"}, "y": {"datum": "r1"}, "text": {"field": "lab"}}}
    ]
  },
  {
    "width": 658.2, "height": 186.7,
    "title": {"text": "C", "anchor": "start", "frame": "group", "dx": -111.5, "dy": 36, "fontSize": 18, "fontWeight": "bold", "offset": 18, "color": "#111", "font": "Liberation Sans"},
    "data": {"name": "bars"},
    "mark": {"type": "bar"},
    "encoding": {
      "y": {"field": "r", "type": "nominal", "sort": ["Very High (n = 287)","High (n =  327)","Intermediate (n = 228)","Low (n = 122)"],
            "scale": {"paddingInner": 0.1, "paddingOuter": 0.05},
            "axis": {"title": "IPSS-R", "offset": -24.1, "titleFontSize": 15, "titleX": -128.1, "titleY": 93.35, "titleBaseline": "middle", "titleAngle": 270, "labelFontSize": 10.5, "tickSize": 5, "labelPadding": 4}},
      "x": {"field": "pct", "type": "quantitative", "stack": "zero", "scale": {"domain": [0, 100.5], "range": [24.1, 658.2], "nice": false, "zero": false},
            "axis": {"values": [0,25,50,75,100], "tickCount": 20, "title": "HSCT Patients (%)", "titleFontSize": 15, "titlePadding": 7, "labelFontSize": 11, "tickSize": 5, "labelPadding": 5, "labelOverlap": false}},
      "color": {"field": "g", "type": "nominal",
                "scale": {"domain": ["Low","Moderate low","Moderate high","High","Very high"], "range": ["#8f2039","#7abfb3","#21a89b","#a9572f","#7a3390"]},
                "legend": {"orient": "none", "legendX": 223.5, "legendY": -33.3, "direction": "horizontal", "columns": 3, "title": "IPSS-M", "titleOrient": "left", "titleAnchor": "middle", "titlePadding": 8.6, "titleFontSize": 10, "symbolType": "square", "symbolSize": 100, "symbolStrokeWidth": 0, "labelOffset": 4, "columnPadding": 13, "rowPadding": 4, "labelFontSize": 10.5}},
      "order": {"field": "lvl", "type": "quantitative", "sort": "descending"}
    }
  }
]
}
